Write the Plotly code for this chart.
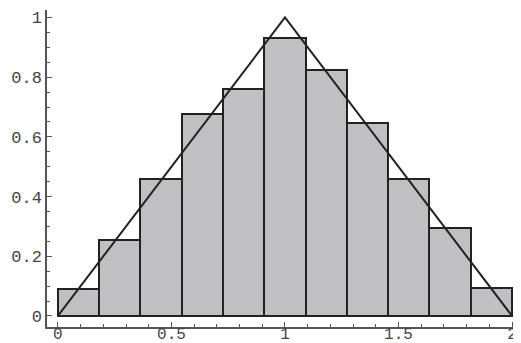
import plotly.graph_objects as go

bin_start = 0.0
bin_end = 2.0
bar_heights = [0.09, 0.254, 0.46, 0.676, 0.759, 0.932, 0.823, 0.645, 0.46, 0.294, 0.094]
line_x = [0, 1, 2]
line_y = [0, 1, 0]
x_tickvals = [0, 0.5, 1, 1.5, 2]
x_ticktext = ["0", "0.5", "1", "1.5", "2"]
y_tickvals = [0, 0.2, 0.4, 0.6, 0.8, 1]
y_ticktext = ["0", "0.2", "0.4", "0.6", "0.8", "1"]

n = len(bar_heights)
w = (bin_end - bin_start) / n
centers = [bin_start + w * (i + 0.5) for i in range(n)]

fig = go.Figure()
fig.add_trace(go.Bar(x=centers, y=bar_heights, width=w,
                     marker=dict(color="#c0c0c2", line=dict(color="#222222", width=2))))
fig.add_trace(go.Scatter(x=line_x, y=line_y, mode="lines",
                         line=dict(color="#222222", width=2)))

axis_font = dict(family="Liberation Mono, Courier New, monospace", size=17, color="#444444")
x_font = dict(family="Liberation Mono, Courier New, monospace", size=16, color="#444444")
# page body has an 8px margin; figure sized to fit the window exactly
fig.update_layout(
    width=513, height=335,
    margin=dict(l=39, r=6, t=2, b=16, autoexpand=False),
    paper_bgcolor="white", plot_bgcolor="white",
    showlegend=False, bargap=0,
    xaxis=dict(range=[-0.048, 2.013], showgrid=False, zeroline=False, automargin=False,
               showline=True, linecolor="#555555", linewidth=1.5,
               ticks="inside", ticklen=5, tickcolor="#555555",
               tickvals=x_tickvals, ticktext=x_ticktext, tickfont=x_font,
               ticklabelstandoff=-9,
               minor=dict(ticks="inside", ticklen=3, tickcolor="#555555", dtick=0.1, tick0=0)),
    yaxis=dict(range=[-0.037, 1.025], showgrid=False, zeroline=False, automargin=False,
               showline=True, linecolor="#555555", linewidth=1.5,
               ticks="inside", ticklen=5, tickcolor="#555555",
               tickvals=y_tickvals, ticktext=y_ticktext, tickfont=axis_font,
               minor=dict(ticks="inside", ticklen=3, tickcolor="#555555", dtick=0.05, tick0=0)),
)
fig.write_html("out.html")
